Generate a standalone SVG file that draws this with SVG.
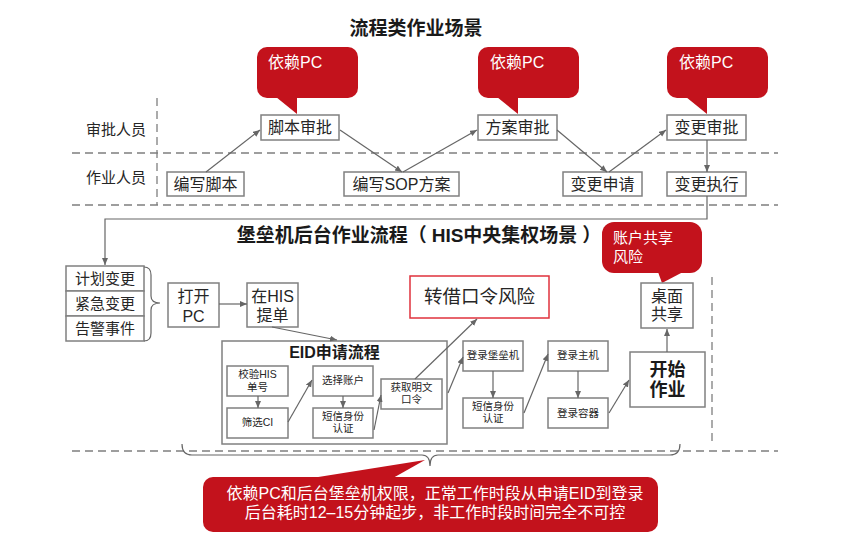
<svg xmlns="http://www.w3.org/2000/svg" width="853" height="548" viewBox="0 0 853 548">
<style>
text{font-family:"Liberation Sans","Noto Sans CJK SC",sans-serif;fill:#262626}
.t{font-size:16px;text-anchor:middle}
.s{font-size:10.5px;text-anchor:middle}
.lbl{font-size:15px}
.title{font-size:19px;font-weight:bold;text-anchor:middle;fill:#1a1a1a}
.box{fill:#fff;stroke:#808080;stroke-width:1.5}
.red{fill:#C3121C}
.wt{fill:#fff;font-size:16px}
.dash{fill:none;stroke:#7f7f7f;stroke-width:1.3;stroke-dasharray:8 5}
.ln{fill:none;stroke:#666;stroke-width:1.2}
.ar{fill:none;stroke:#666;stroke-width:1.2;marker-end:url(#ah)}
</style>
<defs>
<marker id="ah" markerUnits="userSpaceOnUse" markerWidth="8" markerHeight="7" refX="7" refY="3" orient="auto">
<path d="M0,0 L7,3 L0,6 z" fill="#666"/>
</marker>
</defs>
<rect width="853" height="548" fill="#fff"/>

<!-- titles and lanes -->
<text class="title" x="416" y="35">流程类作业场景</text>
<text class="title" x="419" y="242">堡垒机后台作业流程（<tspan dx="5">HIS中央集权场景</tspan><tspan dx="5">）</tspan></text>
<g id="lanes">
<line class="dash" x1="157" y1="98" x2="157" y2="205"/>
<line class="dash" x1="72" y1="153" x2="778" y2="153"/>
<line class="dash" x1="72" y1="205" x2="778" y2="205"/>
<line class="dash" x1="72" y1="451" x2="778" y2="451"/>
<line class="dash" x1="712" y1="277" x2="712" y2="443"/>
<text class="lbl" x="86" y="135">审批人员</text>
<text class="lbl" x="86" y="183">作业人员</text>
</g>

<!-- callouts -->
<g id="callout1">
<rect class="red" x="257" y="47" width="101" height="51" rx="10"/>
<polygon class="red" points="276,97 297,114 297,97"/>
<text class="wt" x="268" y="68">依赖PC</text>
</g>
<g id="callout2">
<rect class="red" x="478" y="47" width="101" height="51" rx="10"/>
<polygon class="red" points="497,97 518,114 518,97"/>
<text class="wt" x="490" y="68">依赖PC</text>
</g>
<g id="callout3">
<rect class="red" x="667" y="47" width="101" height="51" rx="10"/>
<polygon class="red" points="686,97 707,114 707,97"/>
<text class="wt" x="679" y="68">依赖PC</text>
</g>
<g id="callout4">
<rect class="red" x="602" y="222" width="100" height="51" rx="12"/>
<polygon class="red" points="658,272 662,283 683,272"/>
<text class="wt" style="font-size:15px" x="613" y="243">账户共享</text>
<text class="wt" style="font-size:15px" x="613" y="262">风险</text>
</g>
<g id="callout5">
<rect class="red" x="203" y="477" width="455" height="55" rx="10"/>
<polygon class="red" points="312,478 425,460 393,478"/>
<text class="wt" style="font-size:16px;text-anchor:middle" x="435" y="499">依赖PC和后台堡垒机权限，正常工作时段从申请EID到登录</text>
<text class="wt" style="font-size:16px;text-anchor:middle" x="435" y="518">后台耗时12–15分钟起步，非工作时段时间完全不可控</text>
</g>

<!-- top nodes -->
<g id="n-jbsp"><rect class="box" x="261" y="115" width="78" height="25"/><text class="t" x="300" y="133">脚本审批</text></g>
<g id="n-bxjb"><rect class="box" x="167" y="172" width="77" height="24"/><text class="t" x="205.5" y="190">编写脚本</text></g>
<g id="n-sop"><rect class="box" x="344" y="172" width="115" height="24"/><text class="t" x="401.5" y="190">编写SOP方案</text></g>
<g id="n-fasp"><rect class="box" x="478" y="115" width="79" height="25"/><text class="t" x="517.5" y="133">方案审批</text></g>
<g id="n-bgsq"><rect class="box" x="563" y="172" width="79" height="24"/><text class="t" x="602.5" y="190">变更申请</text></g>
<g id="n-bgsp"><rect class="box" x="667" y="115" width="79" height="25"/><text class="t" x="706.5" y="133">变更审批</text></g>
<g id="n-bgzx"><rect class="box" x="667" y="172" width="79" height="24"/><text class="t" x="706.5" y="190">变更执行</text></g>

<!-- lower nodes -->
<g id="n-stack">
<rect class="box" x="66" y="266" width="78" height="25"/>
<rect class="box" x="66" y="291" width="78" height="25"/>
<rect class="box" x="66" y="316" width="78" height="25"/>
<text class="t" style="font-size:15px" x="105" y="284">计划变更</text>
<text class="t" style="font-size:15px" x="105" y="309">紧急变更</text>
<text class="t" style="font-size:15px" x="105" y="334">告警事件</text>
</g>
<g id="n-dkpc"><rect class="box" x="168" y="283" width="51" height="44"/><text class="t" x="193.5" y="302">打开</text><text class="t" x="193.5" y="322">PC</text></g>
<g id="n-his"><rect class="box" x="247" y="283" width="51" height="44"/><text class="t" x="272.5" y="302">在HIS</text><text class="t" x="272.5" y="321">提单</text></g>
<g id="n-eid">
<rect class="box" x="222" y="341" width="225" height="103"/>
<text class="t" style="font-weight:bold;fill:#1a1a1a" x="334.5" y="358">EID申请流程</text>
</g>
<g id="n-jy"><rect class="box" x="227" y="366" width="61" height="30"/><text class="s" x="257.5" y="378">校验HIS</text><text class="s" x="257.5" y="391">单号</text></g>
<g id="n-sx"><rect class="box" x="227" y="408" width="61" height="30"/><text class="s" x="257.5" y="426">筛选CI</text></g>
<g id="n-xz"><rect class="box" x="313" y="366" width="60" height="30"/><text class="s" x="343" y="384">选择账户</text></g>
<g id="n-dx1"><rect class="box" x="313" y="408" width="60" height="30"/><text class="s" x="343" y="420">短信身份</text><text class="s" x="343" y="432">认证</text></g>
<g id="n-hq"><rect class="box" x="381" y="379" width="61" height="30"/><text class="s" x="411.5" y="391">获取明文</text><text class="s" x="411.5" y="403">口令</text></g>
<g id="n-risk"><rect x="410" y="276" width="139" height="42" fill="#fff" stroke="#E0323C" stroke-width="1.5"/><text class="t" style="font-size:18.5px" x="479.5" y="303">转借口令风险</text></g>
<g id="n-dlbl"><rect class="box" x="463" y="341" width="60" height="30"/><text class="s" x="493" y="359">登录堡垒机</text></g>
<g id="n-dx2"><rect class="box" x="463" y="398" width="60" height="30"/><text class="s" x="493" y="410">短信身份</text><text class="s" x="493" y="422">认证</text></g>
<g id="n-dlzj"><rect class="box" x="548" y="341" width="60" height="30"/><text class="s" x="578" y="359">登录主机</text></g>
<g id="n-dlrq"><rect class="box" x="548" y="398" width="60" height="30"/><text class="s" x="578" y="417">登录容器</text></g>
<g id="n-ks"><rect class="box" x="630" y="352" width="75" height="55"/><text class="t" style="font-size:18px;font-weight:bold;fill:#1a1a1a" x="667.5" y="376">开始</text><text class="t" style="font-size:18px;font-weight:bold;fill:#1a1a1a" x="667.5" y="396">作业</text></g>
<g id="n-zm"><rect class="box" x="641" y="283" width="52" height="45"/><text class="t" x="667" y="302">桌面</text><text class="t" x="667" y="320">共享</text></g>

<!-- connectors -->
<g id="connectors">
<line class="ar" x1="206" y1="172" x2="260" y2="130"/>
<line class="ar" x1="340" y1="130" x2="402" y2="172"/>
<line class="ar" x1="403" y1="172" x2="477" y2="130"/>
<line class="ar" x1="557" y1="130" x2="607" y2="172"/>
<line class="ar" x1="609" y1="172" x2="666" y2="130"/>
<line class="ar" x1="707" y1="140" x2="707" y2="172"/>
<path class="ar" d="M707,196 V219 H105 V265"/>
<path class="ln" d="M144,267 Q151,267 151,275 V296 Q151,303 160,303 Q151,303 151,310 V333 Q151,341 144,341"/>
<line class="ar" x1="219" y1="304" x2="247" y2="304"/>
<line class="ar" x1="272" y1="327" x2="337" y2="340"/>
<line class="ar" x1="258" y1="396" x2="258" y2="408"/>
<line class="ar" x1="288" y1="422" x2="312" y2="380"/>
<line class="ar" x1="343" y1="396" x2="343" y2="408"/>
<line class="ar" x1="374" y1="430" x2="381" y2="395"/>
<line class="ar" x1="415" y1="379" x2="477" y2="319"/>
<line class="ar" x1="448" y1="393" x2="463" y2="357"/>
<line class="ar" x1="493" y1="371" x2="493" y2="398"/>
<line class="ar" x1="524" y1="413" x2="548" y2="354"/>
<line class="ar" x1="578" y1="371" x2="578" y2="398"/>
<line class="ar" x1="609" y1="413" x2="629" y2="380"/>
<line class="ar" x1="667" y1="352" x2="667" y2="329"/>
<path class="ln" d="M182,444 Q182,455 192,455 H422 Q430,455 430,466 Q430,455 438,455 H670 Q680,455 680,444"/>
</g>
</svg>
